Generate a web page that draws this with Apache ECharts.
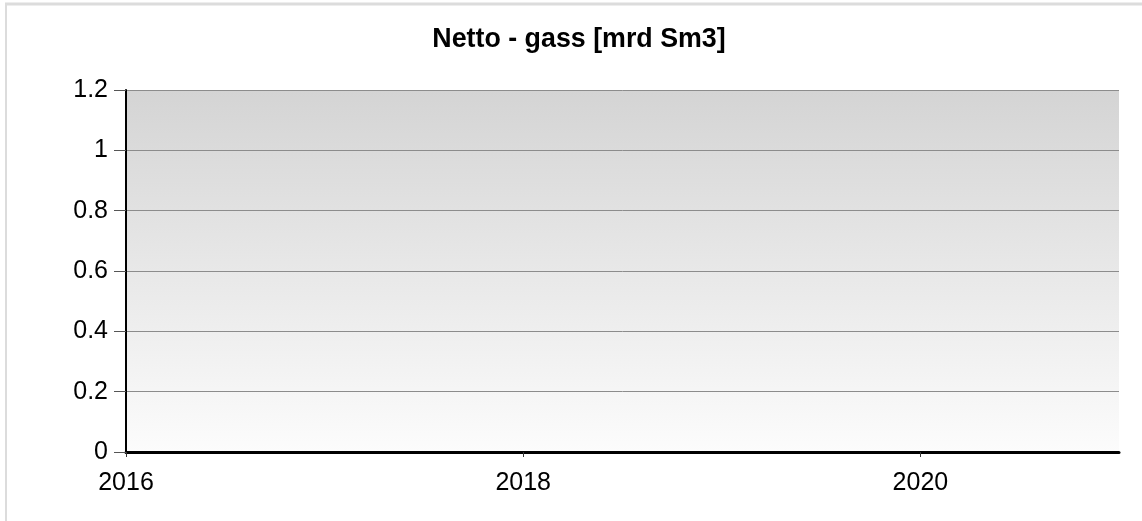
<!DOCTYPE html>
<html>
<head>
<meta charset="utf-8">
<script src="https://cdn.jsdelivr.net/npm/echarts@6/dist/echarts.min.js"></script>
<style>
html,body{margin:0;padding:0;background:#fff;}
#chart{width:1142px;height:521px;}
</style>
</head>
<body>
<div id="chart"></div>
<script>
// Data (the reference chart shows no plotted values)
var titleText = 'Netto - gass [mrd Sm3]';
var years = [];
var values = [];
var xTicks = [2016, 2018, 2020];
var yTicks = [0, 0.2, 0.4, 0.6, 0.8, 1, 1.2];

var chart = echarts.init(document.getElementById('chart'));
var seriesData = years.map(function (y, i) { return [y, values[i]]; });
chart.setOption({
  animation: false,
  backgroundColor: '#fff',
  textStyle: { fontFamily: 'Liberation Sans, Arial, sans-serif' },
  title: {
    text: titleText,
    left: 574, top: 21, textAlign: 'center',
    textStyle: { fontFamily: 'Liberation Sans, Arial, sans-serif', fontSize: 26.8, fontWeight: 'bold', color: '#000' }
  },
  graphic: [
    { type: 'line', shape: { x1: 5, y1: 4, x2: 1142, y2: 4 }, style: { stroke: '#dcdcdc', lineWidth: 3 } },
    { type: 'line', shape: { x1: 6, y1: 4, x2: 6, y2: 521 }, style: { stroke: '#dcdcdc', lineWidth: 2 } }
  ],
  grid: {
    left: 126, top: 90, right: 23, bottom: 69,
    show: true, borderWidth: 0,
    backgroundColor: {
      type: 'linear', x: 0, y: 0, x2: 0, y2: 1,
      colorStops: [{ offset: 0, color: '#d4d4d4' }, { offset: 1, color: '#fcfcfc' }]
    }
  },
  xAxis: {
    type: 'value',
    min: xTicks[0], max: 2021, interval: xTicks[1] - xTicks[0],
    axisLine: { show: true, lineStyle: { color: '#000', width: 3 } },
    axisTick: { show: true, length: 5, lineStyle: { color: '#333', width: 1 } },
    splitLine: { show: false },
    axisLabel: {
      color: '#000', fontSize: 25, margin: 19, showMaxLabel: false,
      formatter: function (v) { return xTicks.indexOf(v) >= 0 ? String(v) : ''; }
    }
  },
  yAxis: {
    type: 'value',
    min: yTicks[0], max: yTicks[yTicks.length - 1], interval: 0.2,
    axisLine: { show: true, lineStyle: { color: '#000', width: 2 } },
    axisTick: { show: true, length: 12, lineStyle: { color: '#555', width: 1 } },
    splitLine: { show: true, lineStyle: { color: '#8c8c8c', width: 1 } },
    axisLabel: {
      color: '#000', fontSize: 25, margin: 18,
      formatter: function (v) { return String(Math.round(v * 10) / 10); }
    }
  },
  series: [{ type: 'line', data: seriesData, showSymbol: false }]
});
</script>
</body>
</html>
